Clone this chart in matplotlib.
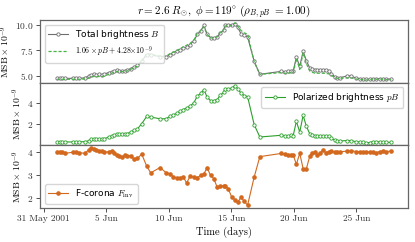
from datetime import datetime, timedelta

import matplotlib

matplotlib.use("Agg")
import matplotlib.pyplot as plt

# days after 2001-05-31 00:00
days = [
    1.07, 1.28, 1.49, 1.70, 2.34, 2.61, 2.87, 3.33, 3.59, 3.78,
    3.99, 4.20, 4.42, 4.63, 4.84, 5.19, 5.45, 5.64, 5.85, 6.06,
    6.28, 6.49, 6.70, 6.97, 7.23, 7.50, 7.84, 8.24, 8.56, 9.31,
    9.78, 10.10, 10.37, 10.64, 10.90, 11.17, 11.43, 11.70, 12.02, 12.28,
    12.55, 12.81, 13.07, 13.34, 13.60, 13.87, 14.13, 14.40, 14.49, 14.76,
    15.02, 15.29, 15.50, 15.77, 16.03, 16.30, 16.83, 17.28, 19.01, 19.27,
    19.54, 19.75, 19.94, 20.20, 20.47, 20.74, 21.00, 21.27, 21.45, 21.67,
    21.88, 22.12, 22.33, 22.54, 22.78, 23.00, 23.26, 23.47, 23.69, 24.27,
    24.54, 24.99, 25.26, 25.52, 25.79, 26.05, 26.32, 26.58, 26.85, 27.12,
    27.38, 27.78,
]
total_b = [
    4.72, 4.72, 4.74, 4.72, 4.74, 4.76, 4.72, 4.80, 4.95, 5.10,
    5.12, 5.10, 5.12, 5.08, 5.15, 5.30, 5.38, 5.48, 5.52, 5.50,
    5.45, 5.48, 5.55, 5.70, 5.85, 6.00, 6.45, 7.05, 7.02, 6.88,
    6.85, 7.05, 7.25, 7.40, 7.55, 7.70, 7.80, 8.05, 8.45, 9.05,
    9.40, 9.95, 9.05, 8.75, 8.70, 8.80, 9.20, 9.50, 9.95, 10.00,
    10.00, 10.10, 9.78, 9.13, 9.00, 8.80, 6.41, 5.13, 5.42, 5.40,
    5.42, 5.45, 5.42, 6.80, 5.93, 7.38, 6.47, 5.75, 5.65, 5.60,
    5.60, 5.60, 5.60, 5.58, 5.50, 5.20, 4.90, 4.80, 4.80, 4.97,
    4.97, 4.75, 4.70, 4.67, 4.65, 4.65, 4.70, 4.68, 4.70, 4.68,
    4.66, 4.66,
]
polarized_b = [
    0.34, 0.34, 0.34, 0.34, 0.34, 0.34, 0.34, 0.38, 0.43, 0.59,
    0.59, 0.59, 0.59, 0.59, 0.62, 0.80, 0.90, 1.00, 1.05, 1.05,
    1.05, 1.08, 1.12, 1.27, 1.42, 1.55, 2.03, 2.71, 2.65, 2.49,
    2.49, 2.71, 2.86, 3.00, 3.17, 3.35, 3.50, 3.66, 4.00, 4.60,
    4.85, 5.20, 4.49, 4.18, 4.18, 4.27, 4.70, 4.95, 5.29, 5.29,
    5.32, 5.57, 5.29, 4.88, 4.64, 4.55, 1.94, 0.80, 0.96, 0.90,
    0.90, 0.96, 0.90, 2.25, 1.26, 2.80, 1.79, 1.10, 1.00, 0.90,
    0.90, 0.90, 0.90, 0.88, 0.85, 0.71, 0.50, 0.43, 0.43, 0.47,
    0.47, 0.36, 0.34, 0.30, 0.28, 0.28, 0.36, 0.34, 0.36, 0.34,
    0.30, 0.30,
]
f_corona = [
    3.99, 4.00, 4.02, 3.94, 3.99, 4.02, 3.97, 3.94, 4.10, 4.16,
    4.13, 4.09, 4.06, 4.03, 3.99, 4.01, 4.06, 3.94, 3.87, 3.82,
    3.77, 3.87, 3.84, 3.84, 3.68, 3.72, 3.91, 3.39, 3.10, 3.33,
    3.11, 3.06, 2.92, 2.89, 2.89, 2.92, 2.66, 2.95, 2.92, 2.89,
    2.99, 3.06, 3.32, 2.99, 2.85, 2.48, 2.52, 2.55, 2.55, 2.41,
    2.07, 1.93, 1.82, 2.04, 1.88, 1.70, 2.92, 3.80, 3.94, 3.90,
    3.87, 3.87, 3.88, 3.47, 3.94, 3.28, 3.28, 3.82, 3.97, 3.99,
    3.87, 3.97, 4.09, 3.97, 4.02, 4.06, 3.99, 3.99, 4.01, 4.04,
    4.06, 4.02, 4.02, 4.02, 4.02, 3.99, 3.99, 3.97, 4.02, 4.04,
    4.02, 4.04,
]
fit_slope = 1.06
fit_offset = 4.28
tick_days = [0, 5, 10, 15, 20, 25]
tick_labels = ["31 May 2001", "5 Jun", "10 Jun", "15 Jun", "20 Jun", "25 Jun"]

plt.rcParams["font.family"] = ["cmr10"]
plt.rcParams["mathtext.fontset"] = "cm"
plt.rcParams["axes.formatter.use_mathtext"] = True

start = datetime(2001, 5, 31)
times = [start + timedelta(days=d) for d in days]
fit_line = [fit_slope * p + fit_offset for p in polarized_b]

figure, axes = plt.subplots(3, 1, figsize=(4.15, 2.42), dpi=100, sharex=True)
figure.subplots_adjust(left=0.097, right=0.983, top=0.917, bottom=0.14, hspace=0)

legend_font = {"family": "DejaVu Sans", "size": 6.5}
legend_style = dict(prop=legend_font, handlelength=2.2, borderpad=0.4, labelspacing=0.35, handletextpad=0.8)
marker_style = dict(marker="o", markersize=2.4, markerfacecolor="white", markeredgewidth=0.6, linewidth=0.8)

axes[0].plot(times, total_b, color="#6e6e6e", label="Total brightness $B$", **marker_style)
axes[0].plot(times, fit_line, color="#44b544", linestyle="--", linewidth=0.9, dashes=(2.5, 1.5),
             label=r"$1.06\times pB+4.28{\times}10^{-9}$")
top_legend = axes[0].legend(loc="upper left", **legend_style)
top_legend.get_texts()[1].set_fontsize(5.6)

axes[1].plot(times, polarized_b, color="#2ca02c", label="Polarized brightness $pB$", **marker_style)
axes[1].legend(loc="upper right", **legend_style)

axes[2].plot(times, f_corona, color="#d2691e", marker="o", markersize=2.3, linewidth=0.8,
             label=r"F-corona $F_{\rm inv}$")
axes[2].legend(loc="lower left", **legend_style)

for axis in axes:
    axis.set_ylabel(r"$\mathrm{MSB}\times10^{-9}$", fontsize=7, labelpad=2)
    axis.tick_params(labelsize=6.8, length=3, width=0.6, pad=2, colors="#333333")
    for spine in axis.spines.values():
        spine.set_color("#666666")
        spine.set_linewidth(0.9)

axes[0].set_yticks([5.0, 7.5, 10.0])
axes[1].set_yticks([2, 4])
axes[2].set_yticks([2, 3, 4])
axes[2].set_xticks([start + timedelta(days=d) for d in tick_days], tick_labels)
axes[2].set_xlabel("Time (days)", fontsize=7.5, labelpad=2)
axes[0].set_title(r"$r = 2.6\ R_{\odot},\ \phi = 119^{\circ}\ (\rho_{B,pB}\ {=}1.00)$", fontsize=8, pad=3)

figure.savefig("out.png", dpi=100)
plt.close(figure)
